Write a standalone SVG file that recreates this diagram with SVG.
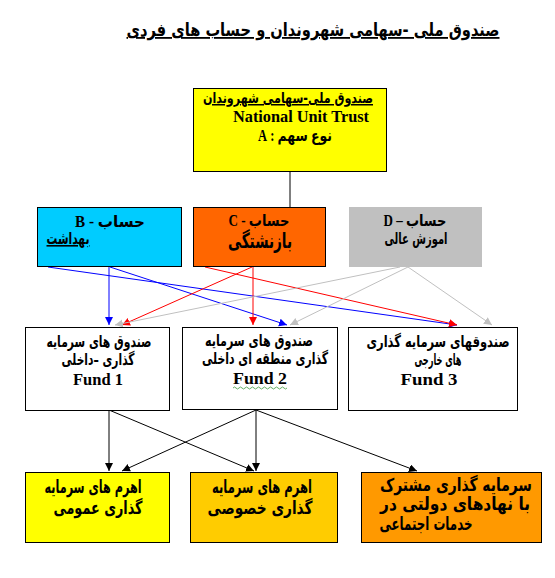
<svg xmlns="http://www.w3.org/2000/svg" width="555" height="578" viewBox="0 0 555 578">
<defs>
<style>
.box{stroke:#000;stroke-width:1}
.ar{font-family:"DejaVu Sans","Noto Sans",sans-serif;font-weight:bold;direction:rtl;text-anchor:middle;fill:#000}
.la{font-family:"Liberation Serif","DejaVu Serif",serif;font-weight:bold;text-anchor:middle;fill:#000}
.mix{font-family:"Liberation Serif","DejaVu Sans",serif;font-weight:bold;direction:rtl;text-anchor:middle;fill:#000}
.c{fill:none;stroke-width:1}
</style>
<marker id="mb" markerUnits="userSpaceOnUse" markerWidth="9" markerHeight="9" refX="8" refY="4" orient="auto"><path d="M0,0 L8,4 L0,8 z" fill="#0000FF"/></marker>
<marker id="mr" markerUnits="userSpaceOnUse" markerWidth="9" markerHeight="9" refX="8" refY="4" orient="auto"><path d="M0,0 L8,4 L0,8 z" fill="#FF0000"/></marker>
<marker id="mg" markerUnits="userSpaceOnUse" markerWidth="9" markerHeight="9" refX="8" refY="4" orient="auto"><path d="M0,0 L8,4 L0,8 z" fill="#C0C0C0"/></marker>
<marker id="mk" markerUnits="userSpaceOnUse" markerWidth="9" markerHeight="9" refX="8" refY="4" orient="auto"><path d="M0,0 L8,4 L0,8 z" fill="#000"/></marker>
</defs>
<rect width="555" height="578" fill="#fff"/>

<g id="title">
<text class="ar" x="313" y="36" font-size="18" text-decoration="underline" textLength="373" lengthAdjust="spacingAndGlyphs">صندوق ملی -سهامی شهروندان  و حساب های فردی</text>
</g>

<g id="connectors">
<line class="c" stroke="#000" x1="290" y1="171" x2="290" y2="207"/>
<line class="c" stroke="#0000FF" x1="109" y1="267" x2="109" y2="325" marker-end="url(#mb)"/>
<line class="c" stroke="#0000FF" x1="110" y1="267" x2="287" y2="325" marker-end="url(#mb)"/>
<line class="c" stroke="#0000FF" x1="48" y1="267" x2="457" y2="325" marker-end="url(#mb)"/>
<line class="c" stroke="#FF0000" x1="253" y1="267" x2="253" y2="325" marker-end="url(#mr)"/>
<line class="c" stroke="#FF0000" x1="252" y1="267" x2="122" y2="325" marker-end="url(#mr)"/>
<line class="c" stroke="#FF0000" x1="205" y1="267" x2="457" y2="325" marker-end="url(#mr)"/>
<line class="c" stroke="#C0C0C0" x1="400" y1="267" x2="115" y2="325" marker-end="url(#mg)"/>
<line class="c" stroke="#C0C0C0" x1="408" y1="267" x2="290" y2="325" marker-end="url(#mg)"/>
<line class="c" stroke="#C0C0C0" x1="408" y1="267" x2="492" y2="325" marker-end="url(#mg)"/>
<line class="c" stroke="#000" x1="109" y1="410" x2="109" y2="471" marker-end="url(#mk)"/>
<line class="c" stroke="#000" x1="109" y1="410" x2="254" y2="471" marker-end="url(#mk)"/>
<line class="c" stroke="#000" x1="256" y1="410" x2="256" y2="471" marker-end="url(#mk)"/>
<line class="c" stroke="#000" x1="256" y1="410" x2="122" y2="471" marker-end="url(#mk)"/>
<line class="c" stroke="#000" x1="256" y1="410" x2="417" y2="471" marker-end="url(#mk)"/>
</g>

<g id="trust">
<rect class="box" x="193.5" y="88.5" width="193" height="83" fill="#FFFF00"/>
<text class="ar" x="288" y="103" font-size="15" text-decoration="underline" textLength="170" lengthAdjust="spacingAndGlyphs">صندوق ملی-سهامی شهروندان</text>
<text class="la" x="301" y="122" font-size="16" textLength="136" lengthAdjust="spacingAndGlyphs">National Unit Trust</text>
<text class="mix" x="295" y="141" font-size="16" textLength="74" lengthAdjust="spacingAndGlyphs">نوع سهم  :  A</text>
</g>

<g id="accountB">
<rect class="box" x="37.5" y="207.5" width="144" height="59" fill="#00CCFF"/>
<text class="mix" x="110" y="227" font-size="16" textLength="70" lengthAdjust="spacingAndGlyphs">حساب      - B</text>
<text class="ar" x="68" y="244" font-size="16" text-decoration="underline" textLength="43" lengthAdjust="spacingAndGlyphs">بهداشت</text>
</g>

<g id="accountC">
<rect class="box" x="193.5" y="207.5" width="132" height="59" fill="#FF6600"/>
<text class="mix" x="259" y="226" font-size="16" textLength="61" lengthAdjust="spacingAndGlyphs">حساب  - C</text>
<text class="ar" x="260" y="248" font-size="21" textLength="64" lengthAdjust="spacingAndGlyphs">بازنشتگی</text>
</g>

<g id="accountD">
<rect x="349" y="207" width="133" height="60" fill="#C0C0C0"/>
<text class="mix" x="415" y="226" font-size="16" textLength="63" lengthAdjust="spacingAndGlyphs">حساب – D</text>
<text class="ar" x="416" y="244" font-size="16" textLength="63" lengthAdjust="spacingAndGlyphs">اموزش عالی</text>
</g>

<g id="fund1">
<rect class="box" x="25.5" y="327.5" width="144" height="83" fill="#fff"/>
<text class="ar" x="99" y="347" font-size="16" textLength="105" lengthAdjust="spacingAndGlyphs">صندوق های سرمایه</text>
<text class="ar" x="98" y="365" font-size="16" textLength="73" lengthAdjust="spacingAndGlyphs">گذاری –داخلی</text>
<text class="la" x="98" y="385" font-size="17" textLength="50" lengthAdjust="spacingAndGlyphs">Fund 1</text>
</g>

<g id="fund2">
<rect class="box" x="182.5" y="327.5" width="155" height="82" fill="#fff"/>
<text class="ar" x="259" y="346" font-size="16" textLength="108" lengthAdjust="spacingAndGlyphs">صندوق های سرمایه</text>
<text class="ar" x="265" y="364" font-size="16" textLength="126" lengthAdjust="spacingAndGlyphs">گذاری منطقه ای داخلی</text>
<text class="la" x="260" y="384" font-size="17" textLength="54" lengthAdjust="spacingAndGlyphs">Fund  2</text>
<path d="M233,388 q1.5,-2 3,0 t3,0 t3,0 t3,0 t3,0 t3,0 t3,0 t3,0 t3,0 t3,0 t3,0 t3,0 t3,0 t3,0 t3,0 t3,0 t3,0 t3,0" fill="none" stroke="#3c9a3c" stroke-width="0.8"/>
</g>

<g id="fund3">
<rect class="box" x="348.5" y="327.5" width="169" height="83" fill="#fff"/>
<text class="ar" x="438" y="347" font-size="16" textLength="143" lengthAdjust="spacingAndGlyphs">صندوقهای سرمایه گذاری</text>
<text class="ar" x="438" y="365" font-size="16" textLength="47" lengthAdjust="spacingAndGlyphs">های خارجی</text>
<text class="la" x="429" y="385" font-size="17" textLength="57" lengthAdjust="spacingAndGlyphs">Fund 3</text>
</g>

<g id="lever1">
<rect class="box" x="25.5" y="472.5" width="144" height="70" fill="#FFFF00"/>
<text class="ar" x="93" y="493" font-size="18" textLength="97" lengthAdjust="spacingAndGlyphs">اهرم های سرمایه</text>
<text class="ar" x="98" y="514" font-size="18" textLength="89" lengthAdjust="spacingAndGlyphs">گذاری عمومی</text>
</g>

<g id="lever2">
<rect class="box" x="190.5" y="472.5" width="147" height="70" fill="#FFCC00"/>
<text class="ar" x="262" y="493" font-size="18" textLength="100" lengthAdjust="spacingAndGlyphs">اهرم های سرمایه</text>
<text class="ar" x="260" y="514" font-size="18" textLength="105" lengthAdjust="spacingAndGlyphs">گذاری خصوصی</text>
</g>

<g id="joint">
<rect class="box" x="361.5" y="472.5" width="180" height="70" fill="#FF9900"/>
<text class="ar" x="456" y="491" font-size="18" textLength="152" lengthAdjust="spacingAndGlyphs">سرمایه گذاری مشترک</text>
<text class="ar" x="455" y="510" font-size="18" textLength="150" lengthAdjust="spacingAndGlyphs">با نهادهای دولتی در</text>
<text class="ar" x="426" y="530" font-size="18" textLength="93" lengthAdjust="spacingAndGlyphs">خدمات  اجتماعی</text>
</g>
</svg>
